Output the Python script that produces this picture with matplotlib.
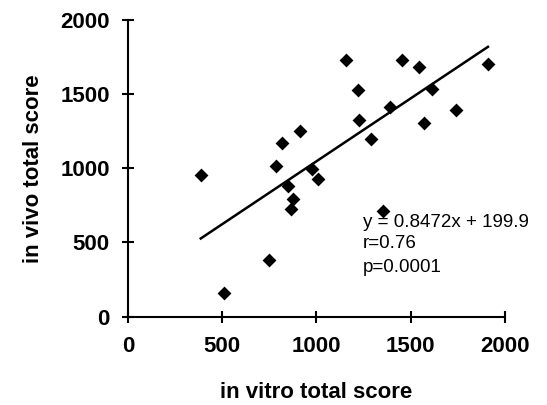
import matplotlib
matplotlib.use("Agg")
import matplotlib.pyplot as plt
import numpy as np

plt.rcParams['font.family'] = ['Liberation Sans', 'DejaVu Sans']

in_vitro = [386, 508, 750, 786, 818, 912, 850, 873, 865, 979, 1007, 1156, 1218,
            1225, 1292, 1354, 1393, 1455, 1543, 1570, 1612, 1740, 1910]
in_vivo = [955, 157, 382, 1018, 1173, 1254, 881, 796, 728, 993, 926, 1730, 1524,
           1326, 1196, 715, 1416, 1730, 1681, 1303, 1533, 1393, 1703]
slope = 0.8472
intercept = 199.9
annot = ["y = 0.8472x + 199.9", "r=0.76", "p=0.0001"]
ticks = [0, 500, 1000, 1500, 2000]

fig = plt.figure(figsize=(5.47, 4.05), dpi=100)
ax = fig.add_axes([0.234, 0.218, 0.689, 0.733])

ax.scatter(in_vitro, in_vivo, marker='D', s=50, color='black', zorder=3, linewidths=0)
xl = np.array([min(in_vitro), max(in_vitro)])
ax.plot(xl, slope * xl + intercept, color='black', lw=1.8)

ax.set_xlim(0, 2000)
ax.set_ylim(0, 2000)
ax.set_xticks(ticks)
ax.set_yticks(ticks)
ax.set_xticklabels([str(t) for t in ticks], fontsize=16, fontweight='bold')
ax.set_yticklabels([str(t) for t in ticks], fontsize=16, fontweight='bold')
ax.tick_params(direction='inout', length=8, width=1.5)
ax.tick_params(axis='x', pad=10)
ax.tick_params(axis='y', pad=9)
for s in ['top', 'right']:
    ax.spines[s].set_visible(False)
for s in ['left', 'bottom']:
    ax.spines[s].set_linewidth(1.5)
ax.set_xlabel('in vitro total score', fontsize=16, fontweight='bold', labelpad=18)
ax.set_ylabel('in vivo total score', fontsize=16, fontweight='bold', labelpad=12)

for i, (t, yy) in enumerate(zip(annot, [605, 463, 301])):
    ax.text(1245, yy, t, fontsize=13.5, va='baseline', ha='left')

fig.savefig('out.png', dpi=100)
